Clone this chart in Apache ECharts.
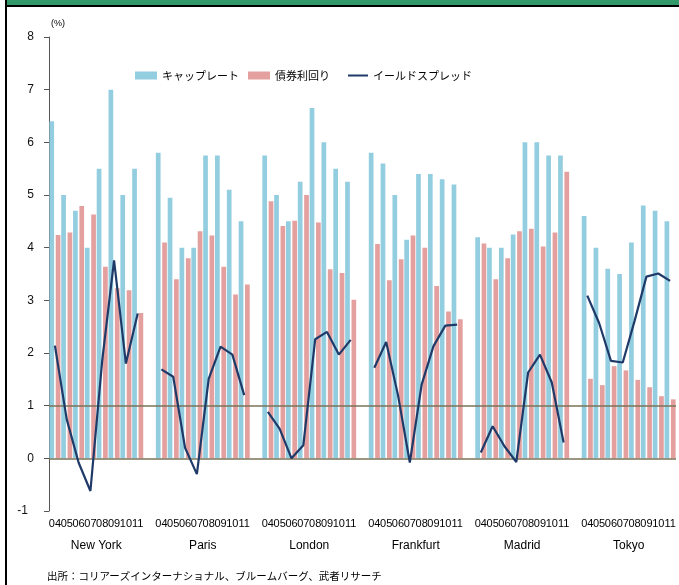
<!DOCTYPE html>
<html>
<head>
<meta charset="utf-8">
<script src="https://cdn.jsdelivr.net/npm/echarts@6/dist/echarts.min.js"></script>
<style>
  html, body { margin: 0; padding: 0; background: #fff; }
  #chart { width: 679px; height: 585px; }
</style>
</head>
<body>
<div id="chart"></div>
<script>
// Cities and years along the x axis
const cities = ['New York', 'Paris', 'London', 'Frankfurt', 'Madrid', 'Tokyo'];
const years = ['04', '05', '06', '07', '08', '09', '10', '11'];

// キャップレート (%), one row per city, 2004-2011
const capRate = [
  [6.40, 5.00, 4.70, 4.00, 5.50, 7.00, 5.00, 5.50],
  [5.80, 4.95, 4.00, 4.00, 5.75, 5.75, 5.10, 4.50],
  [5.75, 5.00, 4.50, 5.25, 6.65, 6.00, 5.50, 5.25],
  [5.80, 5.60, 5.00, 4.15, 5.40, 5.40, 5.30, 5.20],
  [4.20, 4.00, 4.00, 4.25, 6.00, 6.00, 5.75, 5.75],
  [4.60, 4.00, 3.60, 3.50, 4.10, 4.80, 4.70, 4.50]
];

// 債券利回り (%)
const bondYield = [
  [4.24, 4.29, 4.79, 4.63, 3.64, 3.23, 3.19, 2.76],
  [4.10, 3.40, 3.80, 4.31, 4.23, 3.64, 3.11, 3.30],
  [4.88, 4.41, 4.51, 5.00, 4.48, 3.59, 3.52, 3.01],
  [4.07, 3.38, 3.78, 4.23, 4.00, 3.27, 2.79, 2.64],
  [4.08, 3.40, 3.80, 4.31, 4.36, 4.02, 4.29, 5.44],
  [1.51, 1.39, 1.75, 1.67, 1.49, 1.35, 1.18, 1.12]
];

// イールドスプレッド (%)
const yieldSpread = [
  [2.14, 0.74, -0.08, -0.62, 1.86, 3.76, 1.80, 2.75],
  [1.69, 1.55, 0.20, -0.30, 1.51, 2.12, 1.97, 1.20],
  [0.88, 0.56, 0.00, 0.25, 2.26, 2.40, 1.97, 2.25],
  [1.72, 2.21, 1.20, -0.08, 1.40, 2.13, 2.52, 2.54],
  [0.11, 0.61, 0.23, -0.07, 1.63, 1.97, 1.44, 0.30],
  [3.09, 2.57, 1.85, 1.82, 2.61, 3.45, 3.51, 3.37]
];

// Y axis range and step
const yMin = -1, yMax = 8, yStep = 1;

// Flatten into one category axis, leaving one empty slot between cities
const cats = [], capData = [], bondData = [], spreadData = [];
const cityStart = [];
cities.forEach((city, i) => {
  if (i > 0) {
    cats.push('gap' + i);
    capData.push('-'); bondData.push('-'); spreadData.push('-');
  }
  cityStart.push(cats.length);
  years.forEach((y, j) => {
    cats.push(city + '|' + y);
    capData.push(capRate[i][j]);
    bondData.push(bondYield[i][j]);
    spreadData.push(yieldSpread[i][j]);
  });
});

// Boundary axis for the city names: one entry per category edge,
// the name sits on the edge between 07 and 08
const edges = [];
const cityAtEdge = {};
for (let k = 0; k <= cats.length; k++) edges.push('e' + k);
cities.forEach((city, i) => { cityAtEdge[cityStart[i] + 4] = city; });

const narrow = '"Liberation Sans Narrow", "Liberation Sans", Arial, sans-serif';
const jp = '"Noto Sans CJK JP", sans-serif';

const chart = echarts.init(document.getElementById('chart'), null, { renderer: 'canvas' });

chart.setOption({
  animation: false,
  backgroundColor: '#ffffff',
  grid: { left: 49, right: 2, top: 37, bottom: 74, containLabel: false },
  legend: [
    {
      left: 135, top: 70, padding: 0, itemWidth: 22, itemHeight: 8,
      data: [{ name: 'キャップレート', icon: 'rect' }],
      textStyle: { fontFamily: jp, fontSize: 11, color: '#000' }
    },
    {
      left: 248, top: 70, padding: 0, itemWidth: 22, itemHeight: 8,
      data: [{ name: '債券利回り', icon: 'rect' }],
      textStyle: { fontFamily: jp, fontSize: 11, color: '#000' }
    },
    {
      left: 348, top: 70, padding: 0, itemWidth: 20, itemHeight: 2,
      data: [{ name: 'イールドスプレッド', icon: 'rect' }],
      textStyle: { fontFamily: jp, fontSize: 11, color: '#000' }
    }
  ],
  xAxis: [
    {
      type: 'category',
      data: cats,
      position: 'bottom',
      axisLine: { show: false },
      axisTick: { show: false },
      axisLabel: {
        interval: 0,
        margin: 7,
        fontFamily: narrow,
        fontSize: 11,
        color: '#000',
        formatter: v => (v.indexOf('|') >= 0 ? v.split('|')[1] : '')
      },
      splitLine: { show: false }
    },
    {
      type: 'category',
      data: edges,
      boundaryGap: false,
      position: 'bottom',
      axisLine: { show: false },
      axisTick: { show: false },
      axisLabel: {
        interval: 0,
        margin: 29,
        fontFamily: narrow,
        fontSize: 12,
        color: '#000',
        formatter: (v, idx) => cityAtEdge[idx] || ''
      },
      splitLine: { show: false }
    }
  ],
  yAxis: {
    type: 'value',
    min: yMin,
    max: yMax,
    interval: yStep,
    name: '(%)',
    nameLocation: 'end',
    nameGap: 9,
    nameTextStyle: { fontSize: 9, color: '#000', align: 'left', padding: [0, 0, 0, 2], fontFamily: 'Liberation Sans, Arial, sans-serif' },
    axisLine: { show: true, lineStyle: { color: '#555', width: 1 } },
    axisTick: { show: true, length: 5, lineStyle: { color: '#555' } },
    axisLabel: {
      margin: 15, fontSize: 12, color: '#111', fontFamily: 'Liberation Sans, Arial, sans-serif',
      // negative numbers carry a trailing space in this number format
      formatter: v => (v < 0 ? v + '\u2002' : String(v))
    },
    splitLine: { show: false }
  },
  series: [
    {
      name: 'キャップレート',
      type: 'bar',
      data: capData,
      barWidth: 4.7,
      barGap: '35%',
      itemStyle: { color: '#93CDE0' }
    },
    {
      name: '債券利回り',
      type: 'bar',
      data: bondData,
      barWidth: 4.7,
      barGap: '35%',
      itemStyle: { color: '#E3A09F' },
      markLine: {
        silent: true,
        symbol: 'none',
        label: { show: false },
        lineStyle: { color: '#7A7358', width: 1.5, type: 'solid' },
        data: [{ yAxis: 0 }, { yAxis: 1 }]
      }
    },
    {
      name: 'イールドスプレッド',
      type: 'line',
      data: spreadData,
      symbol: 'none',
      connectNulls: false,
      lineStyle: { color: '#1F3A68', width: 2.2 },
      itemStyle: { color: '#1F3A68' },
      z: 5
    }
  ],
  graphic: [
    // header band and frame
    { type: 'rect', left: 7, top: 0, shape: { width: 672, height: 5 }, style: { fill: '#31996A' }, silent: true },
    { type: 'rect', left: 5, top: 5, shape: { width: 674, height: 2 }, style: { fill: '#000' }, silent: true },
    { type: 'rect', left: 5, top: 0, shape: { width: 2, height: 585 }, style: { fill: '#000' }, silent: true },
    // source note
    {
      type: 'text', left: 47, top: 571,
      style: {
        text: '出所：コリアーズインターナショナル、ブルームバーグ、武者リサーチ',
        fontFamily: jp, fontSize: 10.5, fill: '#000'
      }
    }
  ]
});
</script>
</body>
</html>
